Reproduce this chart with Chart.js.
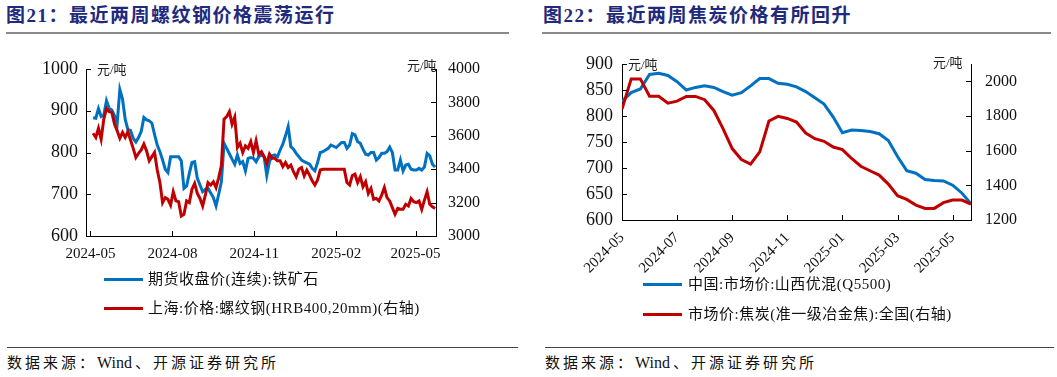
<!DOCTYPE html>
<html>
<head>
<meta charset="utf-8">
<script src="https://cdn.jsdelivr.net/npm/chart.js@4.4.1/dist/chart.umd.min.js"></script>
<style>
  body { margin: 0; width: 1057px; height: 377px; position: relative; background: #fff; overflow: hidden;
         font-family: "Liberation Serif", "Noto Sans CJK SC", serif; color: #111; }
  .title { position: absolute; top: 4px; font-size: 19px; line-height: 23px; font-weight: bold; color: #1f2a7c;
           letter-spacing: 1.5px; white-space: nowrap; }
  .rule { position: absolute; background: #8a8a8a; }
  .unit { position: absolute; font-size: 13px; line-height: 16px; white-space: nowrap; color: #222; }
  .leg { position: absolute; font-size: 15px; line-height: 18px; white-space: nowrap; letter-spacing: 0.5px; }
  .leg i { position: absolute; top: 8px; width: 39px; height: 3px; }
  .src { position: absolute; top: 354px; font-size: 15px; line-height: 18px; letter-spacing: 3px; white-space: nowrap; }
  .src b { font-weight: normal; letter-spacing: 0; margin-right: 3px; font-size: 16px; }
  canvas { position: absolute; }
</style>
</head>
<body>
<div class="title" style="left:6px">图21：最近两周螺纹钢价格震荡运行</div>
<div class="title" style="left:543px">图22：最近两周焦炭价格有所回升</div>
<div class="rule" style="left:6px;top:32px;width:503px;height:2px"></div>
<div class="rule" style="left:542px;top:32px;width:509px;height:2px"></div>

<canvas id="steel" width="520" height="235" style="left:0;top:40px"></canvas>
<canvas id="coke" width="517" height="250" style="left:540px;top:40px"></canvas>

<div class="unit" style="left:97px;top:62px">元/吨</div>
<div class="unit" style="left:407px;top:58px">元/吨</div>
<div class="unit" style="left:628px;top:57px">元/吨</div>
<div class="unit" style="left:933px;top:55px">元/吨</div>

<div class="leg" style="left:104px;top:270px"><i style="left:0;background:#0070c0"></i><span style="margin-left:44px">期货收盘价(连续):铁矿石</span></div>
<div class="leg" style="left:104px;top:299px"><i style="left:0;background:#c00000"></i><span style="margin-left:44px">上海:价格:螺纹钢(HRB400,20mm)(右轴)</span></div>
<div class="leg" style="left:643px;top:275px"><i style="left:0;background:#0070c0"></i><span style="margin-left:45px">中国:市场价:山西优混(Q5500)</span></div>
<div class="leg" style="left:643px;top:305px"><i style="left:0;background:#c00000"></i><span style="margin-left:45px">市场价:焦炭(准一级冶金焦):全国(右轴)</span></div>

<div class="rule" style="left:7px;top:347px;width:511px;height:1px;background:#444"></div>
<div class="rule" style="left:545px;top:347px;width:509px;height:1px;background:#444"></div>
<div class="src" style="left:7px">数据来源：<b>Wind</b>、开源证券研究所</div>
<div class="src" style="left:545px">数据来源：<b>Wind</b>、开源证券研究所</div>

<script>
// 图21: daily prices, sampled every 3 days from 2024-05-04
const steelStart = '2024-05-04';
const steelStep = 3;
const steelTicks = ['2024-05', '2024-08', '2024-11', '2025-02', '2025-05'];
const ironOre = [
  883, 882, 905, 886, 890, 924, 906, 902, 888, 870,
  951, 928, 880, 855, 853, 834, 825, 836, 850, 884,
  878, 876, 870, 843, 818, 802, 782, 760, 752, 790,
  790, 790, 790, 780, 714, 720, 750, 776, 778, 738,
  722, 706, 712, 714, 703, 692, 672, 700, 730, 822,
  810, 797, 784, 772, 794, 774, 778, 756, 786, 788,
  786, 778, 790, 794, 790, 745, 778, 792, 794, 790,
  806, 820, 840, 862, 814, 808, 798, 790, 782, 778,
  775, 772, 762, 756, 776, 800, 802, 806, 810, 818,
  815, 812, 818, 824, 824, 810, 818, 845, 842, 826,
  822, 808, 796, 794, 800, 800, 782, 788, 798, 798,
  802, 813, 800, 758, 758, 782, 756, 770, 772, 760,
  758, 758, 762, 758, 765, 798, 792, 772, 765
];
const rebar = [
  3615, 3590, 3645, 3580, 3700, 3763, 3745, 3740, 3670, 3630,
  3585, 3620, 3590, 3625, 3575, 3525, 3470, 3495, 3515, 3550,
  3510, 3450, 3475, 3500, 3395, 3320, 3200, 3230, 3220, 3185,
  3265, 3210, 3205, 3120, 3130, 3210, 3200, 3280, 3315, 3255,
  3225, 3180, 3245, 3320, 3305, 3325, 3290, 3350, 3420, 3700,
  3715, 3745, 3670, 3712, 3530, 3555, 3500, 3540, 3525, 3565,
  3500, 3570, 3490, 3505, 3475, 3435, 3490, 3465, 3465, 3450,
  3450, 3415, 3440, 3410, 3425, 3385, 3355, 3400, 3410, 3360,
  3395, 3365, 3330, 3305, 3335, 3395, 3400, 3400, 3400, 3400,
  3400, 3400, 3400, 3400, 3400, 3320, 3305, 3362, 3370, 3320,
  3355, 3295, 3325, 3255, 3285, 3220, 3225, 3210, 3245, 3290,
  3230, 3210, 3170, 3130, 3165, 3160, 3160, 3190, 3180, 3225,
  3205, 3200, 3210, 3160, 3215, 3265, 3190, 3175, 3165
];

// 图22: ten-day (旬) prices from 2024-05 上旬
const cokeStartMonth = '2024-05';
const cokeTicks = ['2024-05', '2024-07', '2024-09', '2024-11', '2025-01', '2025-03', '2025-05'];
const coalQ5500 = [828, 845, 852, 880, 882, 878, 866, 850, 855, 858, 855, 847, 840, 845, 858, 872, 872, 863, 861, 856,
  847, 835, 823, 798, 768, 773, 772, 770, 766, 753, 722, 695, 690, 678, 676, 675, 667, 652, 631];
const cokePrice = [1840, 2014, 2014, 1914, 1914, 1874, 1886, 1913, 1913, 1894, 1832, 1727, 1612, 1549, 1522, 1593, 1771, 1798, 1786, 1765,
  1702, 1669, 1654, 1621, 1606, 1555, 1510, 1484, 1459, 1407, 1340, 1319, 1286, 1267, 1267, 1300, 1315, 1315, 1292];

const BLUE = '#0070c0';
const RED = '#c00000';
const xFont = { family: 'Liberation Serif', size: 15 };

const base = Date.UTC(2024, 4, 1);
function dayOf(s) {
  const p = s.split('-').map(Number);
  return (Date.UTC(p[0], p[1] - 1, p[2] || 1) - base) / 86400000;
}
function monthIndex(s) {
  const p = s.split('-').map(Number);
  return p[0] * 12 + p[1] - 1;
}

// short tick marks pointing into the plot area
const innerTicks = {
  id: 'innerTicks',
  afterDraw(chart) {
    const ctx = chart.ctx, a = chart.chartArea;
    ctx.save();
    ctx.strokeStyle = '#000';
    ctx.lineWidth = 1;
    Object.values(chart.scales).forEach(s => {
      s.ticks.forEach(t => {
        const p = Math.round(s.getPixelForValue(t.value)) + 0.5;
        ctx.beginPath();
        if (s.axis === 'x') { ctx.moveTo(p, a.bottom); ctx.lineTo(p, a.bottom - 5); }
        else if (s.position === 'left') { ctx.moveTo(a.left, p); ctx.lineTo(a.left + 5, p); }
        else { ctx.moveTo(a.right, p); ctx.lineTo(a.right - 5, p); }
        ctx.stroke();
      });
    });
    ctx.restore();
  }
};

function yAxis(pos, min, max, step, width, pad, size) {
  return {
    position: pos, min: min, max: max,
    grid: { drawOnChartArea: false, drawTicks: false },
    border: { display: true, color: '#000', width: 1 },
    afterBuildTicks: s => { s.ticks = s.ticks.filter(t => (t.value - min) % step === 0); },
    ticks: { stepSize: step, color: '#111', font: { family: 'Liberation Serif', size: size }, padding: pad,
      callback: v => String(v) },
    afterFit: s => { s.width = width; }
  };
}

const lineStyle = { borderWidth: 3, pointRadius: 0, tension: 0, fill: false };

// ---- 图21
const s0 = dayOf(steelStart);
new Chart(document.getElementById('steel'), {
  type: 'line',
  data: {
    datasets: [
      Object.assign({ label: '期货收盘价(连续):铁矿石', data: ironOre.map((v, i) => ({ x: s0 + i * steelStep, y: v })),
        borderColor: BLUE, yAxisID: 'y', order: 2 }, lineStyle),
      Object.assign({ label: '上海:价格:螺纹钢(HRB400,20mm)(右轴)', data: rebar.map((v, i) => ({ x: s0 + i * steelStep, y: v })),
        borderColor: RED, yAxisID: 'y1', order: 1 }, lineStyle)
    ]
  },
  options: {
    responsive: false, animation: false,
    layout: { padding: { top: 29, left: 0, right: 0, bottom: 0 } },
    plugins: { legend: { display: false }, tooltip: { enabled: false } },
    scales: {
      x: {
        type: 'linear', min: -5, max: 388,
        grid: { drawOnChartArea: false, drawTicks: false },
        border: { display: true, color: '#000', width: 1 },
        afterBuildTicks: s => { s.ticks = steelTicks.map(m => ({ value: dayOf(m) })); },
        ticks: {
          color: '#111', font: xFont, padding: 9, maxRotation: 0, autoSkip: false,
          callback: v => steelTicks[steelTicks.map(dayOf).indexOf(v)]
        },
        afterFit: s => { s.height = 39; }
      },
      y: yAxis('left', 600, 1000, 100, 86, 8, 18),
      y1: yAxis('right', 3000, 4000, 200, 84, 12, 16)
    }
  },
  plugins: [innerTicks]
});

// ---- 图22
const m0 = monthIndex(cokeStartMonth);
const dekad = m => (monthIndex(m) - m0) * 3;
new Chart(document.getElementById('coke'), {
  type: 'line',
  data: {
    datasets: [
      Object.assign({ label: '中国:市场价:山西优混(Q5500)', data: coalQ5500.map((v, i) => ({ x: i, y: v })),
        borderColor: BLUE, yAxisID: 'y', order: 2 }, lineStyle),
      Object.assign({ label: '市场价:焦炭(准一级冶金焦):全国(右轴)', data: cokePrice.map((v, i) => ({ x: i, y: v })),
        borderColor: RED, yAxisID: 'y1', order: 1 }, lineStyle)
    ]
  },
  options: {
    responsive: false, animation: false,
    layout: { padding: { top: 24, left: 0, right: 0, bottom: 0 } },
    plugins: { legend: { display: false }, tooltip: { enabled: false } },
    scales: {
      x: {
        type: 'linear', min: 0, max: 38,
        grid: { drawOnChartArea: false, drawTicks: false },
        border: { display: true, color: '#000', width: 1 },
        afterBuildTicks: s => { s.ticks = cokeTicks.map(m => ({ value: dekad(m) })); },
        ticks: {
          color: '#111', font: xFont, padding: 9, minRotation: 45, maxRotation: 45, autoSkip: false,
          callback: v => cokeTicks[cokeTicks.map(dekad).indexOf(v)]
        },
        afterFit: s => { s.height = 70; }
      },
      y: yAxis('left', 600, 900, 50, 82, 9, 18),
      y1: yAxis('right', 1200, 2100, 200, 86, 14, 16)
    }
  },
  plugins: [innerTicks]
});
</script>
</body>
</html>
